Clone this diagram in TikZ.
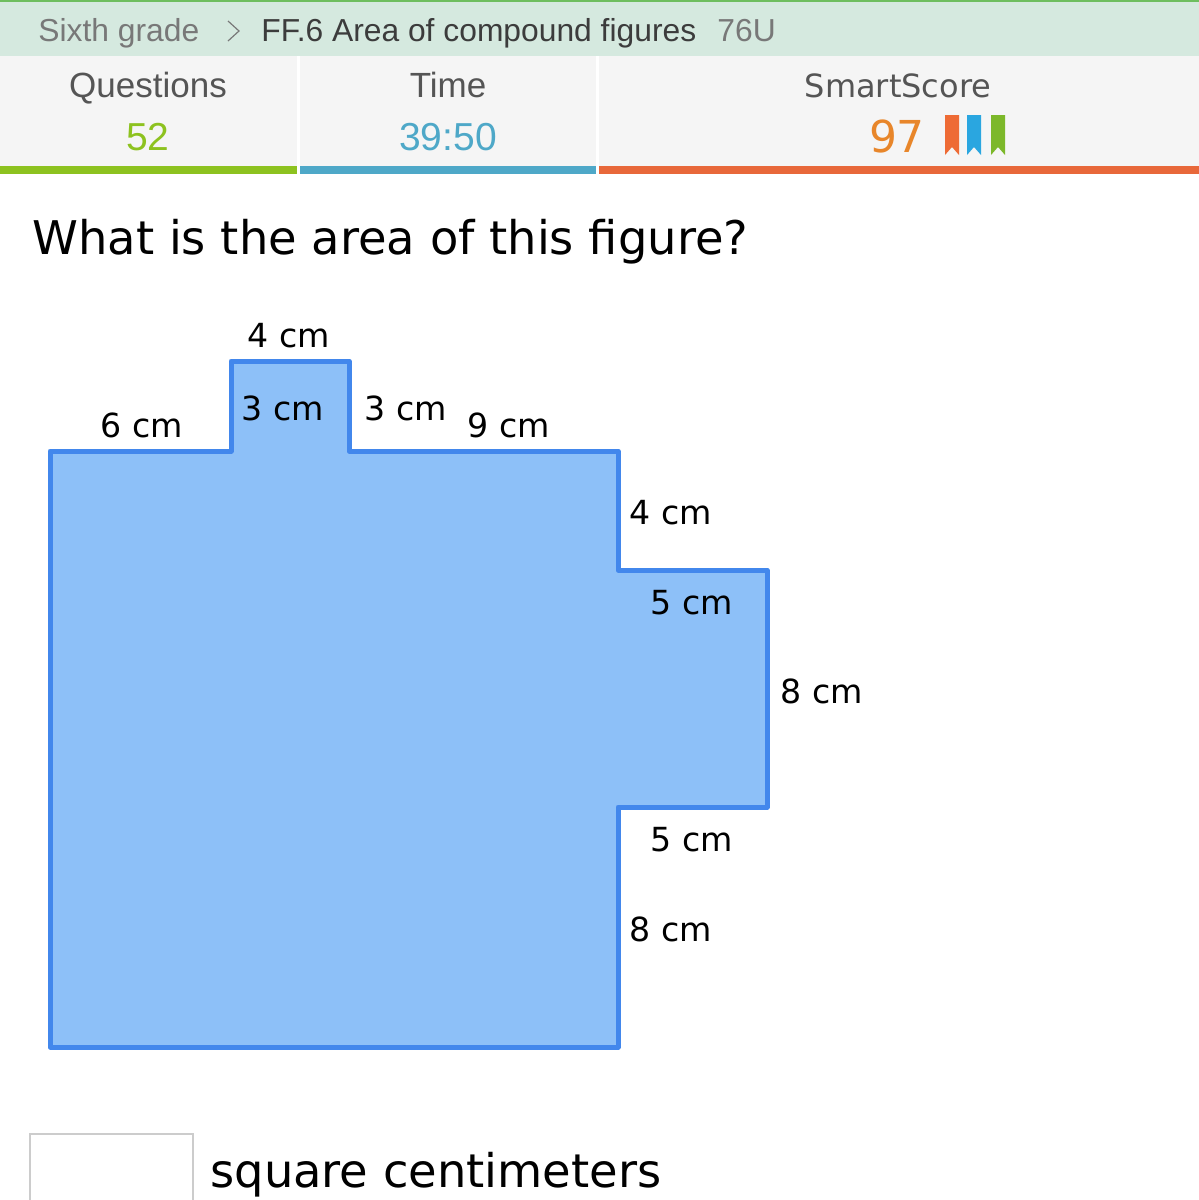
\documentclass[tikz,border=0pt]{standalone}
\usepackage{fontspec}
\setmainfont{DejaVu Sans}
\newfontfamily\uifont{Liberation Sans}
\definecolor{crumbgray}{RGB}{120,120,120}
\definecolor{crumbdark}{RGB}{60,60,60}
\definecolor{statgray}{RGB}{85,85,85}
\definecolor{qgreen}{RGB}{141,194,31}
\definecolor{tblue}{RGB}{78,168,200}
\definecolor{sorange}{RGB}{232,134,42}

\begin{document}
\begin{tikzpicture}[x=0.5pt,y=0.5pt,yscale=-1,xscale=1,
  lbl/.style={anchor=base west,inner sep=0pt,font=\fontsize{16.6}{19}\selectfont},
  stat/.style={anchor=base,inner sep=0pt,font=\uifont\fontsize{17.5}{21}\selectfont,text=statgray},
  crumb/.style={anchor=base west,inner sep=0pt,font=\uifont\fontsize{15.9}{19}\selectfont}]
\useasboundingbox (0,0) rectangle (1199,1200);

%Shape: Rectangle header
\fill [fill={rgb, 255:red, 213; green, 233; blue, 223 }] (0,0) rectangle (1199,56);
\fill [fill={rgb, 255:red, 110; green, 190; blue, 95 }] (0,0) rectangle (1199,2);
%Shape: Rectangle stats
\fill [fill={rgb, 255:red, 245; green, 245; blue, 245 }] (0,56) rectangle (1199,166);
\fill [white] (297,56) rectangle (300,174);
\fill [white] (596,56) rectangle (599,174);
\fill [fill={rgb, 255:red, 141; green, 194; blue, 31 }] (0,166) rectangle (297,174);
\fill [fill={rgb, 255:red, 78; green, 168; blue, 200 }] (300,166) rectangle (596,174);
\fill [fill={rgb, 255:red, 232; green, 104; blue, 58 }] (599,166) rectangle (1199,174);

% Text Node
\node [crumb, text=crumbgray] (grade) at (38,41) {Sixth grade};
\draw [crumbgray, line width=0.6pt] (228,21) -- (239,31) -- (228,41);
\node [crumb, text=crumbdark] (skill) at (261,41) {FF.6 Area of compound figures};
\node [crumb, text=crumbgray] (code) at (717,41) {76U};

% Text Node
\node [stat] (questions) at (148,97) {Questions};
\node [stat, text=qgreen, font=\uifont\fontsize{19.5}{23}\selectfont] (qnum) at (148,150) {52};
\node [stat] (time) at (448,97) {Time};
\node [stat, text=tblue, font=\uifont\fontsize{19.5}{23}\selectfont] (tnum) at (448,150) {39:50};
\node [stat, font=\fontsize{16}{19}\selectfont] (smart) at (898,97) {SmartScore};
\node [stat, text=sorange, font=\fontsize{22}{26}\selectfont] (score) at (897,152) {97};

%Shape: ribbons
\fill [fill={rgb, 255:red, 238; green, 107; blue, 53 }] (945,115) -- (959,115) -- (959,155) -- (952,147) -- (945,155) -- cycle;
\fill [fill={rgb, 255:red, 42; green, 166; blue, 224 }] (967,115) -- (981,115) -- (981,155) -- (974,147) -- (967,155) -- cycle;
\fill [fill={rgb, 255:red, 124; green, 184; blue, 42 }] (991,115) -- (1005,115) -- (1005,155) -- (998,147) -- (991,155) -- cycle;

% Text Node
\node [anchor=base west, inner sep=0pt, font=\fontsize{23.2}{28}\selectfont] (question) at (32,254) {What is the area of this figure?};

%Shape: compound figure
\draw [line width=2.5pt, line join=round, draw={rgb, 255:red, 66; green, 135; blue, 236 }, fill={rgb, 255:red, 141; green, 192; blue, 248 }]
  (50,451) -- (231,451) -- (231,361) -- (349,361) -- (349,451) -- (618,451) -- (618,570) -- (767,570)
  -- (767,807) -- (618,807) -- (618,1047) -- (50,1047) -- cycle;

% Text Node
\node [lbl] (tabtop) at (247,347) {4 cm};
\node [lbl] (leftTop) at (100,437) {6 cm};
\node [lbl] (tabin) at (241,420) {3 cm};
\node [lbl] (tabright) at (364,420) {3 cm};
\node [lbl] (midTop) at (467,437) {9 cm};
\node [lbl] (stepUp) at (629,524) {4 cm};
\node [lbl] (stepTop) at (650,614) {5 cm};
\node [lbl] (stepRight) at (780,703) {8 cm};
\node [lbl] (stepBottom) at (650,851) {5 cm};
\node [lbl] (lowRight) at (629,941) {8 cm};

%Shape: answer box
\draw [line width=1pt, draw={rgb, 255:red, 204; green, 204; blue, 204 }, fill=white] (30,1134) rectangle (193,1215);
\node [anchor=base west, inner sep=0pt, font=\fontsize{23.2}{28}\selectfont] (unit) at (210,1187) {square centimeters};

\end{tikzpicture}
\end{document}
